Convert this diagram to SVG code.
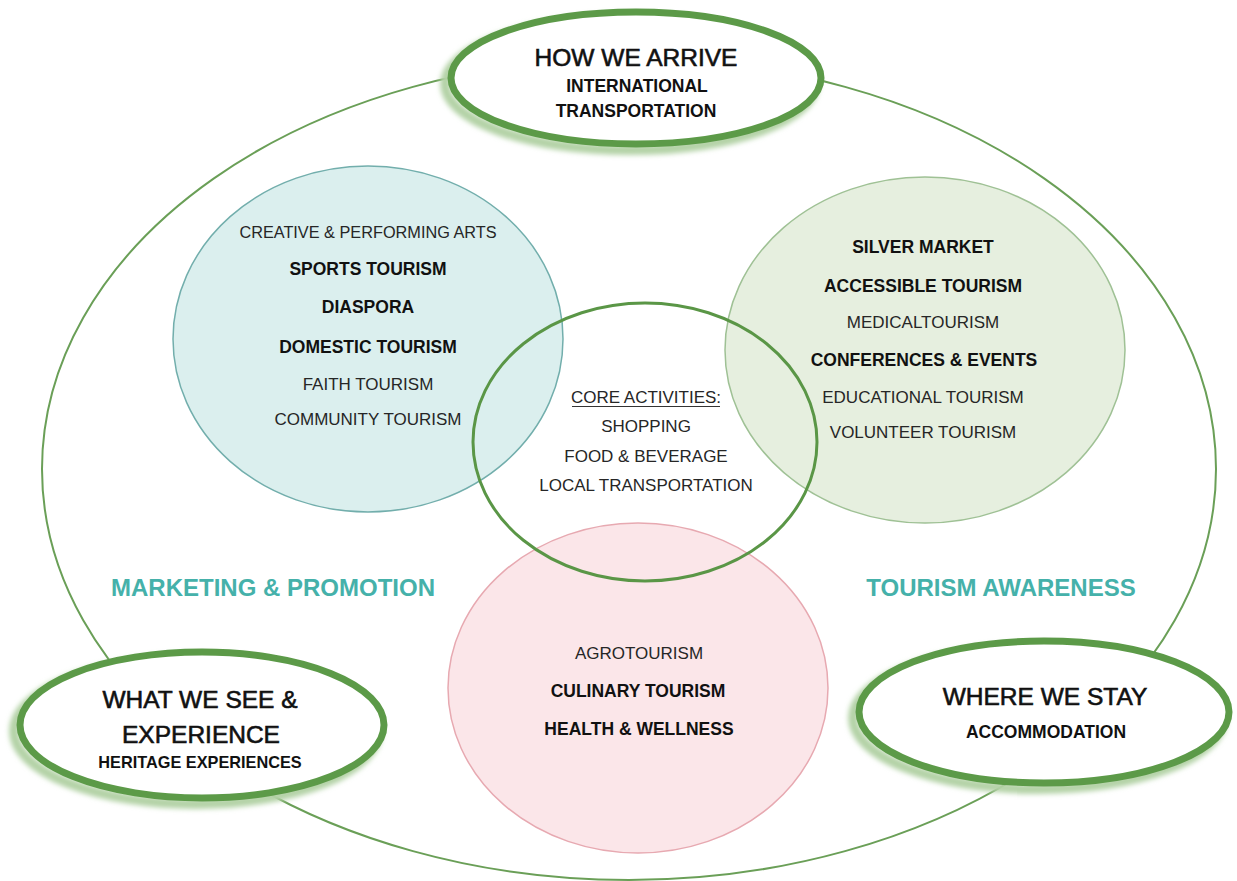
<svg xmlns="http://www.w3.org/2000/svg" width="1237" height="881" viewBox="0 0 1237 881">
<defs>
<filter id="soft" x="-20%" y="-20%" width="140%" height="140%"><feGaussianBlur stdDeviation="2.5"/></filter>
<style>
text{font-family:"Liberation Sans",Arial,sans-serif;text-anchor:middle;fill:#262626}
.r{font-size:17px}
.b{font-size:17.5px;font-weight:bold;fill:#111}
.h{font-size:24.5px;fill:#111;stroke:#111;stroke-width:0.6}
.hs{font-size:17.5px;font-weight:bold;fill:#111}
.side{font-size:24px;font-weight:bold;fill:#45b1aa}
.node{fill:#fff;stroke:#5c9a48;stroke-width:7}
.shadow{fill:none;stroke:#b3d2a6;stroke-width:10;filter:url(#soft)}
</style>
</defs>
<rect width="1237" height="881" fill="#fff"/>
<g id="frame">
<ellipse cx="629" cy="469" rx="587" ry="411" fill="none" stroke="#6a9f57" stroke-width="2"/>
</g>
<g id="circle-teal">
<ellipse cx="368" cy="339" rx="195" ry="173" fill="#dbefee" stroke="#72aeac" stroke-width="1.5"/>
<text class="r" x="368" y="238" style="font-size:16.3px">CREATIVE &amp; PERFORMING ARTS</text>
<text class="b" x="368" y="275">SPORTS TOURISM</text>
<text class="b" x="368" y="313">DIASPORA</text>
<text class="b" x="368" y="353">DOMESTIC TOURISM</text>
<text class="r" x="368" y="390">FAITH TOURISM</text>
<text class="r" x="368" y="425">COMMUNITY TOURISM</text>
</g>
<g id="circle-green">
<ellipse cx="925" cy="350" rx="200" ry="173" fill="#e6efdf" stroke="#9fc195" stroke-width="1.5"/>
<text class="b" x="923" y="253">SILVER MARKET</text>
<text class="b" x="923" y="292">ACCESSIBLE TOURISM</text>
<text class="r" x="923" y="328">MEDICALTOURISM</text>
<text class="b" x="924" y="366">CONFERENCES &amp; EVENTS</text>
<text class="r" x="923" y="403">EDUCATIONAL TOURISM</text>
<text class="r" x="923" y="438">VOLUNTEER TOURISM</text>
</g>
<g id="circle-pink">
<ellipse cx="638" cy="688" rx="190" ry="165" fill="#fbe6e9" stroke="#e7a9b1" stroke-width="1.5"/>
<text class="r" x="639" y="659">AGROTOURISM</text>
<text class="b" x="638" y="697">CULINARY TOURISM</text>
<text class="b" x="639" y="735">HEALTH &amp; WELLNESS</text>
</g>
<g id="circle-core">
<ellipse cx="645" cy="442" rx="172" ry="139" fill="none" stroke="#5a9646" stroke-width="3"/>
<text class="r" x="646" y="403">CORE ACTIVITIES:</text>
<line x1="572" y1="406.5" x2="720" y2="406.5" stroke="#333" stroke-width="1"/>
<text class="r" x="646" y="432">SHOPPING</text>
<text class="r" x="646" y="462">FOOD &amp; BEVERAGE</text>
<text class="r" x="646" y="491">LOCAL TRANSPORTATION</text>
</g>
<g id="label-marketing">
<text class="side" x="273" y="596">MARKETING &amp; PROMOTION</text>
</g>
<g id="label-awareness">
<text class="side" x="1001" y="596">TOURISM AWARENESS</text>
</g>
<g id="node-arrive">
<ellipse class="shadow" cx="630" cy="84" rx="185" ry="66"/>
<ellipse class="node" cx="636" cy="78" rx="185" ry="66"/>
<text class="h" x="636" y="66">HOW WE ARRIVE</text>
<text class="hs" x="637" y="92">INTERNATIONAL</text>
<text class="hs" x="636" y="117">TRANSPORTATION</text>
</g>
<g id="node-see">
<ellipse class="shadow" cx="196" cy="731" rx="182" ry="73"/>
<ellipse class="node" cx="202" cy="725" rx="182" ry="73"/>
<text class="h" x="200" y="708">WHAT WE SEE &amp;</text>
<text class="h" x="201" y="743">EXPERIENCE</text>
<text class="hs" x="200" y="768" style="font-size:16.3px">HERITAGE EXPERIENCES</text>
</g>
<g id="node-stay">
<ellipse class="shadow" cx="1038" cy="718" rx="185" ry="71"/>
<ellipse class="node" cx="1044" cy="712" rx="185" ry="71"/>
<text class="h" x="1045" y="705">WHERE WE STAY</text>
<text class="hs" x="1046" y="738">ACCOMMODATION</text>
</g>
</svg>
